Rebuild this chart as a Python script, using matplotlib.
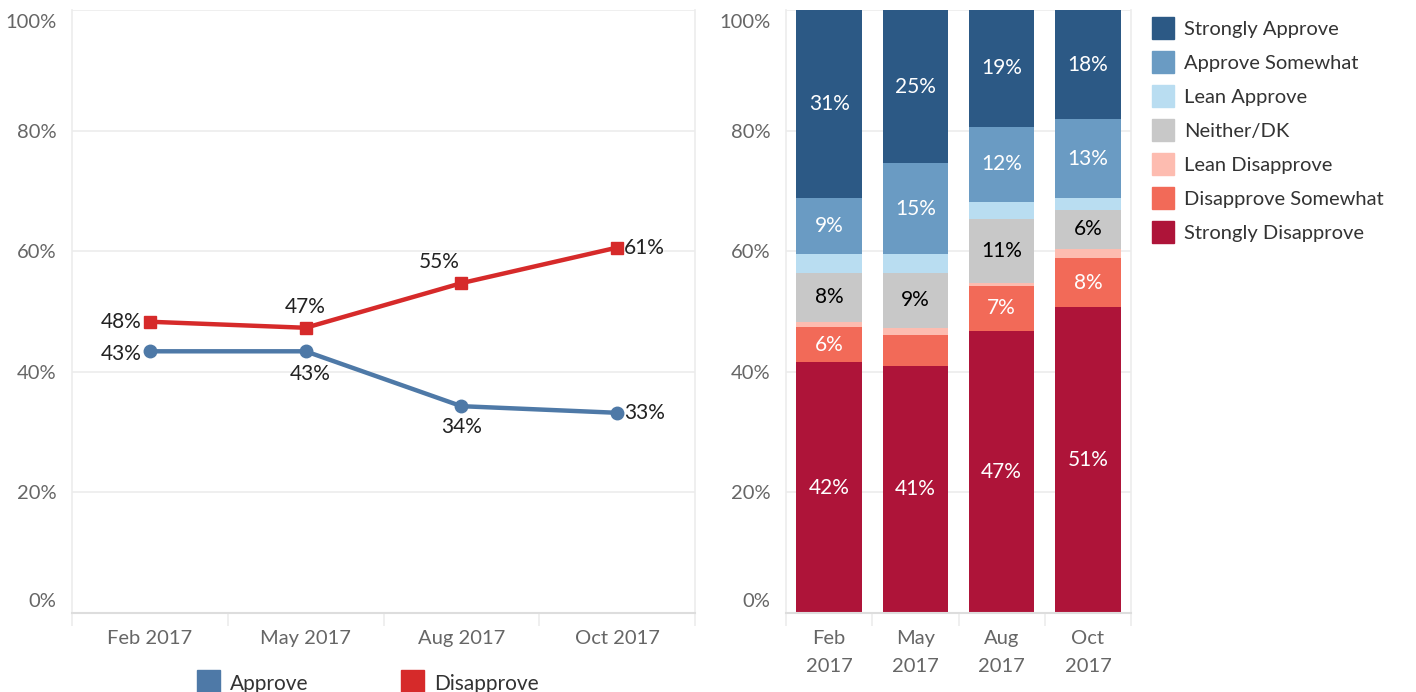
import matplotlib.pyplot as plt
from matplotlib.patches import Rectangle
from matplotlib.transforms import ScaledTranslation
import numpy as np

plt.rcParams['font.family'] = ['Lato', 'DejaVu Sans']

months = ['Feb 2017', 'May 2017', 'Aug 2017', 'Oct 2017']
month_labels_2line = ['Feb\n2017', 'May\n2017', 'Aug\n2017', 'Oct\n2017']

approve = [43.4, 43.4, 34.3, 33.2]
disapprove = [48.3, 47.3, 54.7, 60.6]

# stacked segments, bottom to top
segments = ['Strongly Disapprove', 'Disapprove Somewhat', 'Lean Disapprove',
            'Neither/DK', 'Lean Approve', 'Approve Somewhat', 'Strongly Approve']
strongly_disapprove = [41.6, 41.0, 46.8, 50.7]
disapprove_somewhat = [5.8, 5.1, 7.4, 8.2]
lean_disapprove = [0.9, 1.2, 0.5, 1.5]
neither_dk = [8.1, 9.1, 10.6, 6.4]
lean_approve = [3.1, 3.1, 2.9, 2.0]
approve_somewhat = [9.3, 15.1, 12.4, 13.1]
strongly_approve = [31.2, 25.4, 19.4, 18.1]

seg_values = [strongly_disapprove, disapprove_somewhat, lean_disapprove,
              neither_dk, lean_approve, approve_somewhat, strongly_approve]
seg_colors = ['#ae1439', '#f26a58', '#fdbcb0', '#c8c8c8', '#b9ddf1', '#6a9bc3', '#2c5985']
seg_text = ['white', 'white', None, 'black', None, 'white', 'white']

grid_c = '#ececec'
tick_c = '#666666'

fig = plt.figure(figsize=(14.16, 6.92), dpi=100)
W, H = 1416, 692

def style_axes(ax):
    ax.set_ylim(0, 100)
    ax.set_xlim(-0.5, 3.5)
    ax.set_yticks(np.arange(0, 101, 20))
    ax.set_yticklabels([f'{v}%' for v in range(0, 101, 20)])
    ax.yaxis.grid(True, color=grid_c, linewidth=1.2)
    ax.set_axisbelow(True)
    ax.spines['top'].set_visible(False)
    for s in ['left', 'right']:
        ax.spines[s].set_color(grid_c)
        ax.spines[s].set_linewidth(1.2)
    ax.spines['bottom'].set_color('#dddddd')
    ax.spines['bottom'].set_linewidth(1.5)
    ax.tick_params(axis='y', length=0, labelsize=14.5, labelcolor=tick_c, pad=11)
    ax.tick_params(axis='x', which='major', length=0, labelsize=14.5, labelcolor=tick_c, pad=12)
    ax.set_xticks(np.arange(-0.5, 4, 1), minor=True)
    ax.tick_params(axis='x', which='minor', length=9, color=grid_c, width=1.2)
    labs = ax.get_yticklabels()
    labs[0].set_va('bottom')
    labs[0].set_transform(labs[0].get_transform() + ScaledTranslation(0, 3 / 100, fig.dpi_scale_trans))
    labs[-1].set_va('top')
    labs[-1].set_transform(labs[-1].get_transform() + ScaledTranslation(0, -4 / 100, fig.dpi_scale_trans))

# ---- left: line chart
ax1 = fig.add_axes([72 / W, 1 - 613 / H, 623 / W, 603 / H])
x = np.arange(len(months))
blue = '#4e79a7'
red = '#d62a2a'
ax1.plot(x, approve, color=blue, linewidth=3.2, marker='o', markersize=9, zorder=3)
ax1.plot(x, disapprove, color=red, linewidth=3.2, marker='s', markersize=9, zorder=3)
style_axes(ax1)
ax1.set_xticks(x)
ax1.set_xticklabels(months)

lab_kw = dict(textcoords='offset points', fontsize=15, color='#222222', va='center')
dis_off = [(-6, 0, 'right'), (0, 15, 'center'), (-16, 15, 'center'), (5, 0, 'left')]
app_off = [(-6, -2, 'right'), (3, -16, 'center'), (0, -15, 'center'), (5, 0, 'left')]
for i in range(len(months)):
    dx, dy, ha = dis_off[i]
    ax1.annotate(f'{round(disapprove[i])}%', (x[i], disapprove[i]), xytext=(dx, dy), ha=ha, **lab_kw)
    dx, dy, ha = app_off[i]
    ax1.annotate(f'{round(approve[i])}%', (x[i], approve[i]), xytext=(dx, dy), ha=ha, **lab_kw)

# bottom legend (cut off at figure edge, as in source)
for lx, name, c in [(197, 'Approve', blue), (401, 'Disapprove', red)]:
    fig.add_artist(Rectangle((lx / W, 0), 23 / W, 22 / H, transform=fig.transFigure,
                             color=c, clip_on=False))
    fig.text((lx + 33) / W, 1 - 684 / H, name, fontsize=15, color='#333333', va='center')

# ---- right: stacked bars
ax2 = fig.add_axes([786 / W, 1 - 613 / H, 345 / W, 603 / H])
bottom = np.zeros(len(months))
for vals, col, tc in zip(seg_values, seg_colors, seg_text):
    vals = np.array(vals)
    ax2.bar(x, vals, bottom=bottom, width=0.76, color=col, zorder=2)
    if tc:
        for i, v in enumerate(vals):
            if v >= 5.5:
                ax2.text(x[i], bottom[i] + v / 2, f'{round(v)}%', ha='center', va='center',
                         color=tc, fontsize=15)
    bottom += vals
style_axes(ax2)
ax2.set_xticks(x)
ax2.set_xticklabels(month_labels_2line, linespacing=1.8)
ax2.tick_params(axis='x', which='major', pad=12)

# right legend
for i, (name, col) in enumerate(zip(segments[::-1], seg_colors[::-1])):
    yc = 28 + 34 * i
    fig.add_artist(Rectangle((1152 / W, 1 - (yc + 11) / H), 22 / W, 22 / H,
                             transform=fig.transFigure, color=col))
    fig.text(1184 / W, 1 - (yc + 1) / H, name, fontsize=14.5, color='#333333', va='center')

fig.savefig('out.png', dpi=100)
